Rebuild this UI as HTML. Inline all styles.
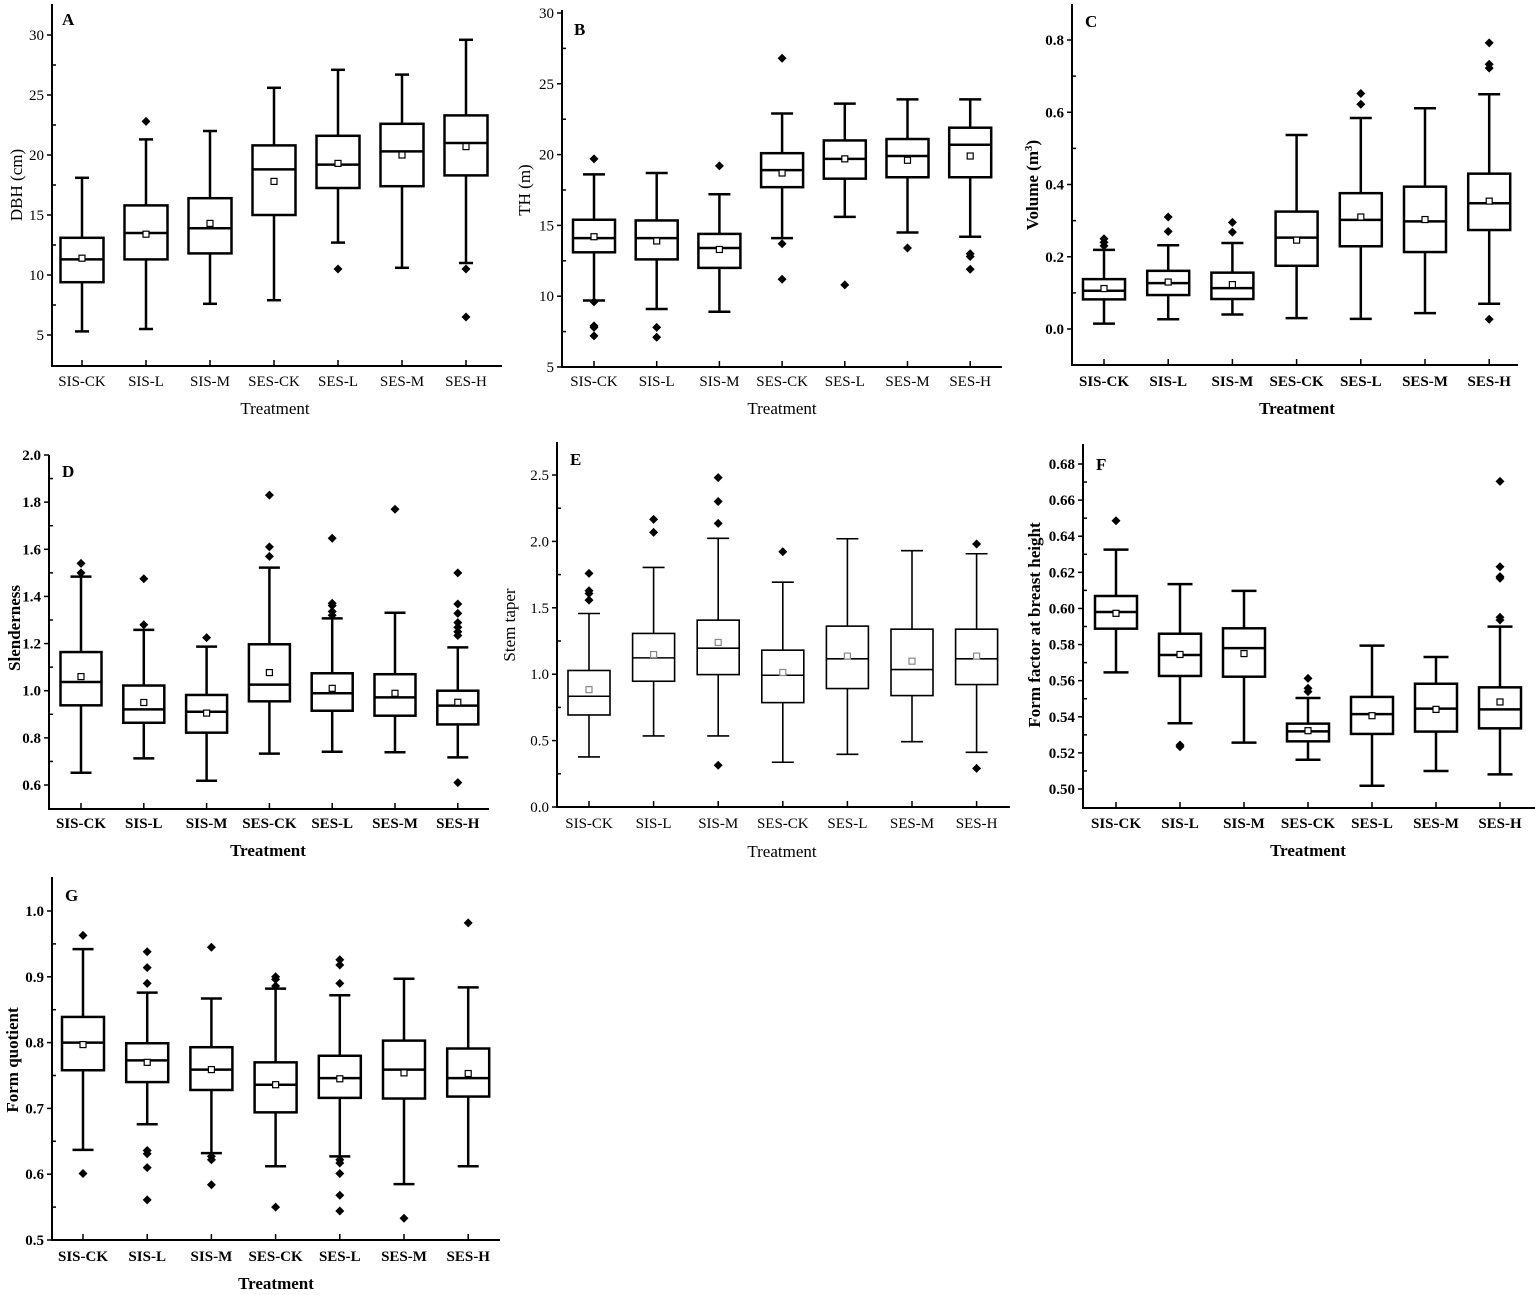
<!DOCTYPE html>
<html><head><meta charset="utf-8">
<style>
html,body{margin:0;padding:0;background:#fff;}
svg{display:block;font-family:"Liberation Serif",serif;}
</style></head>
<body>
<svg id="fig" width="1535" height="1295" viewBox="0 0 1535 1295" xmlns="http://www.w3.org/2000/svg"></svg>
<script>
const categories = ["SIS-CK","SIS-L","SIS-M","SES-CK","SES-L","SES-M","SES-H"];

// Panel A: DBH (cm)
const aLow  = [5.3, 5.5, 7.6, 7.9, 12.7, 10.6, 11.0];
const aQ1   = [9.4, 11.3, 11.8, 15.0, 17.25, 17.4, 18.3];
const aMed  = [11.3, 13.5, 13.9, 18.8, 19.2, 20.3, 21.0];
const aQ3   = [13.1, 15.8, 16.4, 20.8, 21.6, 22.6, 23.3];
const aHigh = [18.1, 21.3, 22.0, 25.6, 27.1, 26.7, 29.6];
const aMean = [11.4, 13.4, 14.3, 17.8, 19.3, 20.0, 20.7];
const aOut  = [[], [22.8], [], [], [10.5], [], [10.5, 6.5]];
const aTicks = [5, 10, 15, 20, 25, 30];

// Panel B: TH (m)
const bLow  = [9.7, 9.1, 8.9, 14.1, 15.6, 14.5, 14.2];
const bQ1   = [13.1, 12.6, 12.0, 17.7, 18.3, 18.4, 18.4];
const bMed  = [14.1, 14.1, 13.4, 18.9, 19.7, 19.9, 20.7];
const bQ3   = [15.4, 15.35, 14.4, 20.1, 21.0, 21.1, 21.9];
const bHigh = [18.6, 18.7, 17.2, 22.9, 23.6, 23.9, 23.9];
const bMean = [14.2, 13.9, 13.3, 18.7, 19.7, 19.6, 19.9];
const bOut  = [[19.7, 9.6, 7.9, 7.8, 7.2], [7.8, 7.1], [19.2], [26.8, 13.7, 11.2], [10.8], [13.4], [13.0, 12.8, 11.9]];
const bTicks = [5, 10, 15, 20, 25, 30];

// Panel C: Volume (m3)
const cLow  = [0.015, 0.027, 0.040, 0.030, 0.028, 0.044, 0.070];
const cQ1   = [0.082, 0.094, 0.083, 0.175, 0.229, 0.213, 0.274];
const cMed  = [0.106, 0.127, 0.113, 0.253, 0.302, 0.298, 0.348];
const cQ3   = [0.138, 0.161, 0.156, 0.325, 0.376, 0.394, 0.430];
const cHigh = [0.219, 0.232, 0.238, 0.537, 0.584, 0.611, 0.650];
const cMean = [0.112, 0.130, 0.123, 0.246, 0.310, 0.303, 0.354];
const cOut  = [[0.25, 0.24, 0.23], [0.31, 0.27], [0.295, 0.268], [], [0.652, 0.622], [], [0.792, 0.733, 0.722, 0.027]];
const cTicks = [0.0, 0.2, 0.4, 0.6, 0.8];

// Panel D: Slenderness
const dLow  = [0.652, 0.713, 0.618, 0.733, 0.741, 0.739, 0.717];
const dQ1   = [0.938, 0.864, 0.822, 0.955, 0.915, 0.894, 0.857];
const dMed  = [1.037, 0.921, 0.911, 1.026, 0.989, 0.972, 0.937];
const dQ3   = [1.164, 1.022, 0.982, 1.197, 1.074, 1.070, 1.000];
const dHigh = [1.484, 1.258, 1.187, 1.522, 1.307, 1.331, 1.184];
const dMean = [1.060, 0.950, 0.905, 1.077, 1.010, 0.989, 0.951];
const dOut  = [[1.54, 1.50], [1.475, 1.28], [1.225], [1.83, 1.61, 1.57], [1.647, 1.371, 1.361, 1.336, 1.32], [1.77], [1.50, 1.368, 1.328, 1.289, 1.269, 1.25, 1.234, 0.61]];
const dTicks = [0.6, 0.8, 1.0, 1.2, 1.4, 1.6, 1.8, 2.0];

// Panel E: Stem taper
const eLow  = [0.377, 0.535, 0.535, 0.337, 0.397, 0.492, 0.412];
const eQ1   = [0.693, 0.947, 0.997, 0.786, 0.892, 0.839, 0.922];
const eMed  = [0.834, 1.123, 1.196, 0.992, 1.116, 1.035, 1.116];
const eQ3   = [1.028, 1.307, 1.407, 1.181, 1.362, 1.339, 1.339];
const eHigh = [1.457, 1.804, 2.023, 1.693, 2.020, 1.930, 1.907];
const eMean = [0.884, 1.148, 1.239, 1.013, 1.136, 1.098, 1.136];
const eOut  = [[1.759, 1.628, 1.608, 1.558], [2.166, 2.068], [2.48, 2.30, 2.136, 0.314], [1.922], [], [], [1.98, 0.291]];
const eTicks = [0.0, 0.5, 1.0, 1.5, 2.0, 2.5];

// Panel F: Form factor at breast height
const fLow  = [0.5646, 0.5364, 0.5257, 0.5162, 0.5018, 0.5100, 0.5081];
const fQ1   = [0.5888, 0.5626, 0.5622, 0.5264, 0.5305, 0.5318, 0.5336];
const fMed  = [0.5980, 0.5742, 0.5780, 0.5319, 0.5415, 0.5445, 0.5441];
const fQ3   = [0.6069, 0.5860, 0.5890, 0.5362, 0.5510, 0.5583, 0.5563];
const fHigh = [0.6326, 0.6135, 0.6097, 0.5504, 0.5794, 0.5731, 0.5899];
const fMean = [0.5973, 0.5745, 0.5750, 0.5323, 0.5406, 0.5441, 0.5482];
const fOut  = [[0.6486], [0.5244, 0.5234], [], [0.5613, 0.5558, 0.5539], [], [], [0.6704, 0.6231, 0.6176, 0.6167, 0.5951, 0.5936]];
const fTicks = [0.50, 0.52, 0.54, 0.56, 0.58, 0.60, 0.62, 0.64, 0.66, 0.68];

// Panel G: Form quotient
const gLow  = [0.637, 0.676, 0.632, 0.612, 0.627, 0.585, 0.612];
const gQ1   = [0.758, 0.740, 0.728, 0.694, 0.716, 0.715, 0.718];
const gMed  = [0.800, 0.773, 0.759, 0.736, 0.746, 0.759, 0.746];
const gQ3   = [0.839, 0.799, 0.793, 0.770, 0.780, 0.803, 0.791];
const gHigh = [0.942, 0.876, 0.867, 0.882, 0.872, 0.897, 0.884];
const gMean = [0.797, 0.770, 0.759, 0.736, 0.745, 0.754, 0.753];
const gOut  = [[0.963, 0.601], [0.938, 0.914, 0.890, 0.636, 0.631, 0.610, 0.561], [0.945, 0.627, 0.622, 0.584], [0.900, 0.896, 0.886, 0.550], [0.926, 0.918, 0.890, 0.622, 0.617, 0.601, 0.568, 0.544], [0.533], [0.982]];
const gTicks = [0.5, 0.6, 0.7, 0.8, 0.9, 1.0];

const NS = "http://www.w3.org/2000/svg";
const svg = document.getElementById("fig");
function mk(tag, attrs, parent) {
  const e = document.createElementNS(NS, tag);
  for (const k in attrs) e.setAttribute(k, attrs[k]);
  (parent || svg).appendChild(e);
  return e;
}

function drawPanel(p) {
  const g = mk("g", {});
  
  
  const yScale = v => p.yA + (v - p.vA) * (p.yB - p.yA) / (p.vB - p.vA);
  const xScale = i => p.x0 + i * p.dx;
  const lw = p.lw;
  // axes
  const ax = mk("path", {d: `M${p.axL},${p.top} V${p.bottom} H${p.axR}`, fill: "none", stroke: "#000", "stroke-width": 2}, g);
  
  
  // y ticks
  const step = p.ticks[1] - p.ticks[0];
  p.ticks.forEach((t, i) => {
    const y = yScale(t);
    mk("line", {x1: p.axL - 5, x2: p.axL, y1: y, y2: y, stroke: "#000", "stroke-width": 1.5}, g);
    const lab = mk("text", {x: p.axL - 8, y: y + 5, "text-anchor": "end", "font-size": 15, "font-weight": p.bold ? "bold" : "normal"}, g);
    lab.textContent = p.fmt(t);
    
    
    const m = t + step / 2;
    const ym = yScale(m);
    if (ym > p.top + 2) mk("line", {x1: p.axL, x2: p.axL + 4, y1: ym, y2: ym, stroke: "#000", "stroke-width": 1.5}, g);
    if (i === 0) {
      const m2 = t - step / 2, y2 = yScale(m2);
      if (y2 < p.bottom - 2) mk("line", {x1: p.axL, x2: p.axL + 4, y1: y2, y2: y2, stroke: "#000", "stroke-width": 1.5}, g);
    }
  });
  // x ticks and labels
  categories.forEach((c, i) => {
    const x = xScale(i);
    mk("line", {x1: x, x2: x, y1: p.bottom, y2: p.bottom - 6, stroke: "#000", "stroke-width": 1.5}, g);
    const lab = mk("text", {x: x, y: p.xlabY, "text-anchor": "middle", "font-size": 15, "font-weight": p.bold ? "bold" : "normal"}, g);
    lab.textContent = c;
    
    
  });
  const xt = mk("text", {x: p.titleX, y: p.titleY, "text-anchor": "middle", "font-size": 17, "font-weight": p.bold ? "bold" : "normal"}, g);
  xt.textContent = "Treatment";
  
  
  const yt = mk("text", {x: 0, y: 0, "text-anchor": "middle", "font-size": 17, "font-weight": p.bold ? "bold" : "normal", transform: `translate(${p.ytX},${p.ytY}) rotate(-90)`}, g);
  if (p.sup) {
    yt.textContent = p.ytitle;
    const s = mk("tspan", {"baseline-shift": "super", "font-size": 11}, yt); s.textContent = "3";
    const s2 = mk("tspan", {}, yt); s2.textContent = ")";
  } else yt.textContent = p.ytitle;
  
  
  const pl = mk("text", {x: p.lx, y: p.ly, "font-size": 17, "font-weight": "bold"}, g);
  pl.textContent = p.letter;
  
  
  // boxes
  const bw = p.bw, cw = p.cw;
  categories.forEach((c, i) => {
    const x = xScale(i);
    const bg = mk("g", {}, g);
    
    
    const yl = yScale(p.low[i]), y1 = yScale(p.q1[i]), ym = yScale(p.med[i]), y3 = yScale(p.q3[i]), yh = yScale(p.high[i]);
    mk("line", {x1: x, x2: x, y1: yh, y2: y3, stroke: "#000", "stroke-width": lw}, bg);
    mk("line", {x1: x, x2: x, y1: y1, y2: yl, stroke: "#000", "stroke-width": lw}, bg);
    mk("line", {x1: x - cw / 2, x2: x + cw / 2, y1: yh, y2: yh, stroke: "#000", "stroke-width": lw}, bg);
    mk("line", {x1: x - cw / 2, x2: x + cw / 2, y1: yl, y2: yl, stroke: "#000", "stroke-width": lw}, bg);
    mk("rect", {x: x - bw / 2, y: y3, width: bw, height: y1 - y3, fill: "#fff", stroke: "#000", "stroke-width": lw}, bg);
    mk("line", {x1: x - bw / 2, x2: x + bw / 2, y1: ym, y2: ym, stroke: "#000", "stroke-width": lw}, bg);
    const mn = yScale(p.mean[i]);
    mk("rect", {x: x - 3, y: mn - 3, width: 6, height: 6, fill: "#fff", stroke: p.meanCol, "stroke-width": 1.2}, bg);
    p.out[i].forEach(v => {
      const yo = yScale(v);
      const d = mk("path", {d: `M${x},${yo - 4.5} L${x + 4.5},${yo} L${x},${yo + 4.5} L${x - 4.5},${yo} Z`, fill: "#000"}, bg);
      
      
    });
  });
}

const fmt0 = t => String(t);
const fmt1 = t => t.toFixed(1);
const fmt2 = t => t.toFixed(2);

drawPanel({letter:"A", ytitle:"DBH (cm)", low:aLow,q1:aQ1,med:aMed,q3:aQ3,high:aHigh,mean:aMean,out:aOut,ticks:aTicks,fmt:fmt0,
  vA:5,yA:335,vB:30,yB:35, axL:52,axR:502,top:4,bottom:366, x0:82,dx:64, bw:43,cw:14,lw:2.5,bold:false,
  xlabY:386,titleX:275,titleY:414,ytX:22,ytY:185,lx:62,ly:25,meanCol:"#000"});
drawPanel({letter:"B", ytitle:"TH (m)", low:bLow,q1:bQ1,med:bMed,q3:bQ3,high:bHigh,mean:bMean,out:bOut,ticks:bTicks,fmt:fmt0,
  vA:5,yA:367,vB:30,yB:13, axL:562,axR:1002,top:10,bottom:367, x0:594,dx:62.7, bw:42,cw:22,lw:2.5,bold:false,
  xlabY:386,titleX:782,titleY:414,ytX:530,ytY:190,lx:574,ly:35,meanCol:"#000"});
drawPanel({letter:"C", ytitle:"Volume (m", sup:true, low:cLow,q1:cQ1,med:cMed,q3:cQ3,high:cHigh,mean:cMean,out:cOut,ticks:cTicks,fmt:fmt1,
  vA:0,yA:329,vB:0.8,yB:40, axL:1072,axR:1518,top:4,bottom:365, x0:1104,dx:64.2, bw:42,cw:22,lw:2.5,bold:true,
  xlabY:386,titleX:1297,titleY:414,ytX:1038,ytY:185,lx:1085,ly:27,meanCol:"#000"});
drawPanel({letter:"D", ytitle:"Slenderness", low:dLow,q1:dQ1,med:dMed,q3:dQ3,high:dHigh,mean:dMean,out:dOut,ticks:dTicks,fmt:fmt1,
  vA:2.0,yA:455,vB:0.6,yB:785, axL:49,axR:489,top:455,bottom:809, x0:81,dx:62.8, bw:41,cw:21,lw:2.5,bold:true,
  xlabY:828,titleX:268,titleY:856,ytX:20,ytY:628,lx:62,ly:477,meanCol:"#000"});
drawPanel({letter:"E", ytitle:"Stem taper", low:eLow,q1:eQ1,med:eMed,q3:eQ3,high:eHigh,mean:eMean,out:eOut,ticks:eTicks,fmt:fmt1,
  vA:0,yA:807,vB:2.5,yB:475, axL:557,axR:1010,top:442,bottom:807, x0:589,dx:64.6, bw:42,cw:22,lw:1.6,bold:false,
  xlabY:828,titleX:782,titleY:857,ytX:515,ytY:625,lx:570,ly:465,meanCol:"#888"});
drawPanel({letter:"F", ytitle:"Form factor at breast height", low:fLow,q1:fQ1,med:fMed,q3:fQ3,high:fHigh,mean:fMean,out:fOut,ticks:fTicks,fmt:fmt2,
  vA:0.50,yA:789,vB:0.68,yB:464, axL:1083,axR:1535,top:444,bottom:808, x0:1116,dx:64, bw:42,cw:25,lw:2.5,bold:true,
  xlabY:828,titleX:1308,titleY:856,ytX:1040,ytY:625,lx:1096,ly:470,meanCol:"#000"});
drawPanel({letter:"G", ytitle:"Form quotient", low:gLow,q1:gQ1,med:gMed,q3:gQ3,high:gHigh,mean:gMean,out:gOut,ticks:gTicks,fmt:fmt1,
  vA:0.5,yA:1240,vB:1.0,yB:911, axL:52,axR:500,top:877,bottom:1240, x0:83,dx:64.2, bw:42,cw:21,lw:2.5,bold:true,
  xlabY:1261,titleX:276,titleY:1289,ytX:18,ytY:1060,lx:65,ly:901,meanCol:"#000"});
</script>
</body></html>
